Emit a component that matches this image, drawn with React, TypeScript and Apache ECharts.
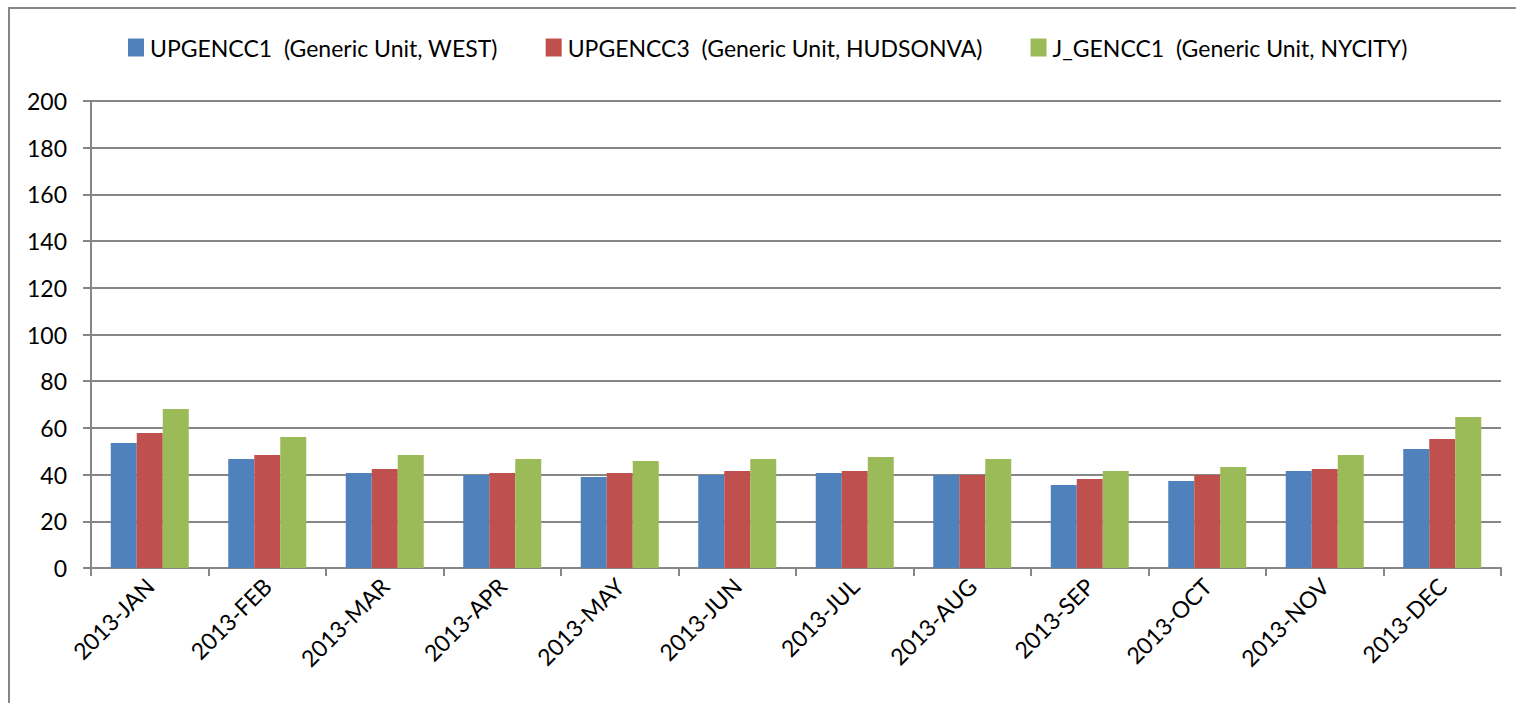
import React, { useEffect, useRef } from "react";
import * as echarts from "echarts";

const categories = [
  "2013-JAN", "2013-FEB", "2013-MAR", "2013-APR", "2013-MAY", "2013-JUN",
  "2013-JUL", "2013-AUG", "2013-SEP", "2013-OCT", "2013-NOV", "2013-DEC",
];
const seriesNames = [
  "UPGENCC1  (Generic Unit, WEST)",
  "UPGENCC3  (Generic Unit, HUDSONVA)",
  "J_GENCC1  (Generic Unit, NYCITY)",
];
const west = [53.5, 46.7, 40.7, 39.8, 39.0, 39.8, 40.7, 39.8, 35.5, 37.3, 41.5, 51.0];
const hudson = [57.8, 48.4, 42.4, 40.7, 40.7, 41.5, 41.5, 39.8, 38.1, 39.8, 42.4, 55.2];
const nyc = [68.1, 56.1, 48.4, 46.7, 45.8, 46.7, 47.5, 46.7, 41.5, 43.3, 48.4, 64.7];
const colors = ["#4F81BD", "#C0504D", "#9BBB59"];
const yTicks = { min: 0, max: 200, interval: 20 };

export default function App() {
  const ref = useRef<HTMLDivElement>(null);
  useEffect(() => {
    document.body.style.margin = "0";
    const chart = echarts.init(ref.current!, null, { renderer: "svg" });
    const font = "Lato, 'Open Sans', sans-serif";
    const data = [west, hudson, nyc];
    chart.setOption({
      animation: false,
      backgroundColor: "#ffffff",
      textStyle: { fontFamily: font },
      graphic: [
        {
          type: "rect",
          shape: { x: 9, y: 8, width: 1600, height: 800 },
          style: { fill: "none", stroke: "#868686", lineWidth: 2 },
          silent: true,
        },
      ],
      legend: {
        top: 36,
        left: 128,
        itemWidth: 16,
        itemHeight: 18,
        itemGap: 48,
        icon: "rect",
        padding: 0,
        textStyle: { fontSize: 23, color: "#000", fontFamily: font, padding: [0, 0, 0, 1] },
        data: seriesNames,
      },
      grid: { left: 91, top: 101, width: 1410, height: 467, containLabel: false },
      xAxis: {
        type: "category",
        data: categories,
        boundaryGap: true,
        axisLine: { lineStyle: { color: "#868686", width: 2 } },
        axisTick: { show: true, length: 8, alignWithLabel: false, lineStyle: { color: "#868686", width: 2 } },
        axisLabel: { rotate: 45, fontSize: 23, color: "#000", margin: 14, fontFamily: font, interval: 0 },
        splitLine: { show: false },
      },
      yAxis: {
        type: "value",
        min: yTicks.min,
        max: yTicks.max,
        interval: yTicks.interval,
        axisLine: { show: true, lineStyle: { color: "#868686", width: 2 } },
        axisTick: { show: true, length: 8, lineStyle: { color: "#868686", width: 2 } },
        axisLabel: { fontSize: 23, color: "#000", margin: 24, fontFamily: font },
        splitLine: { show: true, lineStyle: { color: "#868686", width: 2 } },
      },
      series: seriesNames.map((name, i) => ({
        name,
        type: "bar",
        data: data[i],
        barWidth: 26,
        barGap: "0%",
        itemStyle: { color: colors[i] },
      })),
    });
    return () => chart.dispose();
  }, []);
  return <div ref={ref} style={{ width: 1516, height: 703 }} />;
}
